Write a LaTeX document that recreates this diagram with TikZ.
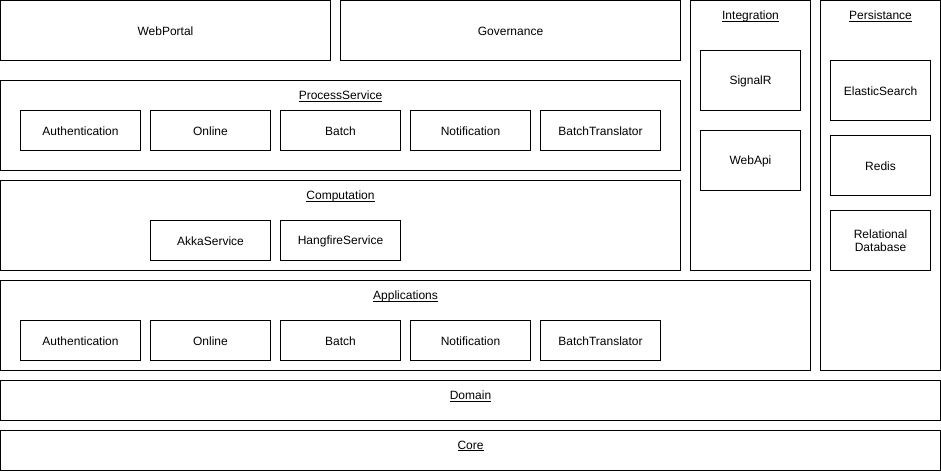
\documentclass[tikz,border=0pt]{standalone}
\usepackage{fontspec}
\setmainfont{Liberation Sans}
\newcommand{\ulword}[1]{\setbox0\hbox{#1}\rlap{\rule[-2.2pt]{\wd0}{0.8pt}}\box0}
\begin{document}
\begin{tikzpicture}[x=1pt,y=-1pt,
  every node/.style={font=\fontsize{12}{14}\selectfont},
  blk/.style={draw, line width=1pt, inner sep=0pt, outer sep=0pt, anchor=north west, align=center,
    execute at begin node={\rule{0pt}{10.8pt}}},
  ttl/.style={inner sep=0pt, anchor=center}]
\useasboundingbox (0,0) rectangle (941,471);
% top row
\node[blk, minimum width=330pt, minimum height=60pt] (webportal) at (0.5,0.5) {WebPortal};
\node[blk, minimum width=340pt, minimum height=60pt] (governance) at (340.5,0.5) {Governance};
% integration column
\node[blk, minimum width=120pt, minimum height=270pt] (integration) at (690.5,0.5) {};
\node[ttl] (integrationT) at (750.5,16) {\ulword{Integration}};
\node[blk, minimum width=100pt, minimum height=60pt] (signalr) at (700.5,50.5) {SignalR};
\node[blk, minimum width=100pt, minimum height=60pt] (webapi) at (700.5,130.5) {WebApi};
% persistance column
\node[blk, minimum width=120pt, minimum height=370pt] (persistance) at (820.5,0.5) {};
\node[ttl] (persistanceT) at (880.5,16) {\ulword{Persistance}};
\node[blk, minimum width=100pt, minimum height=60pt] (elastic) at (830.5,60.5) {ElasticSearch};
\node[blk, minimum width=100pt, minimum height=60pt] (redis) at (830.5,135.5) {Redis};
\node[blk, minimum width=100pt, minimum height=60pt] (reldb) at (830.5,210.5) {Relational\\[-1pt]Database};
% process service
\node[blk, minimum width=680pt, minimum height=90pt] (process) at (0.5,80.5) {};
\node[ttl] (processT) at (340.5,96) {\ulword{ProcessService}};
\node[blk, minimum width=120pt, minimum height=40pt] (psAuth) at (20.5,110.5) {Authentication};
\node[blk, minimum width=120pt, minimum height=40pt] (psOnline) at (150.5,110.5) {Online};
\node[blk, minimum width=120pt, minimum height=40pt] (psBatch) at (280.5,110.5) {Batch};
\node[blk, minimum width=120pt, minimum height=40pt] (psNotif) at (410.5,110.5) {Notification};
\node[blk, minimum width=120pt, minimum height=40pt] (psTrans) at (540.5,110.5) {BatchTranslator};
% computation
\node[blk, minimum width=680pt, minimum height=90pt] (computation) at (0.5,180.5) {};
\node[ttl] (computationT) at (340.5,196) {\ulword{Computation}};
\node[blk, minimum width=120pt, minimum height=40pt] (akka) at (150.5,220.5) {AkkaService};
\node[blk, minimum width=120pt, minimum height=40pt] (hangfire) at (280.5,220.5) {HangfireService};
% applications
\node[blk, minimum width=810pt, minimum height=90pt] (applications) at (0.5,280.5) {};
\node[ttl] (applicationsT) at (405.5,296) {\ulword{Applications}};
\node[blk, minimum width=120pt, minimum height=40pt] (apAuth) at (20.5,320.5) {Authentication};
\node[blk, minimum width=120pt, minimum height=40pt] (apOnline) at (150.5,320.5) {Online};
\node[blk, minimum width=120pt, minimum height=40pt] (apBatch) at (280.5,320.5) {Batch};
\node[blk, minimum width=120pt, minimum height=40pt] (apNotif) at (410.5,320.5) {Notification};
\node[blk, minimum width=120pt, minimum height=40pt] (apTrans) at (540.5,320.5) {BatchTranslator};
% domain and core
\node[blk, minimum width=940pt, minimum height=40pt] (domain) at (0.5,380.5) {};
\node[ttl] (domainT) at (470.5,396) {\ulword{Domain}};
\node[blk, minimum width=940pt, minimum height=40pt] (core) at (0.5,430.5) {};
\node[ttl] (coreT) at (470.5,446) {\ulword{Core}};
\end{tikzpicture}
\end{document}
